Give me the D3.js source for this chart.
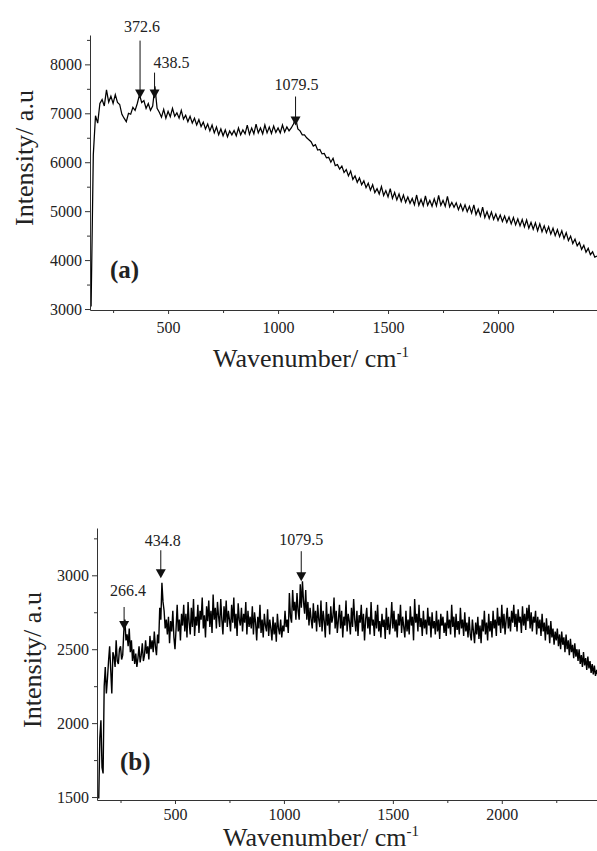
<!DOCTYPE html>
<html>
<head>
<meta charset="utf-8">
<script src="https://cdn.jsdelivr.net/npm/d3@7"></script>
<style>
    body { margin: 0; background: #fff; }
    svg { display: block; }
    svg text { font-family: "Liberation Serif", "Times New Roman", serif; fill: #222; }
    .axis path, .axis line { stroke: #333; stroke-width: 1; }
    .spectrum { fill: none; stroke: #000; }
</style>
</head>
<body>
<svg id="chart" width="597" height="851"></svg>
<script>

var serif = '"Liberation Serif", "Times New Roman", serif';

// both spectra start at 150 cm-1
var waveStart = 150;
var waveStepA = 10;
var waveStepB = 5;

// panel (a) intensity, 150 .. 2450 cm-1, every 10 cm-1
var intensityA = [
    3050, 6150, 6950, 6800, 7200, 7280, 7150, 7480, 7230, 7350,
    7200, 7380, 7220, 7180, 6980, 6900, 6830, 7000, 6980, 7120,
    7060, 7200, 7380, 7220, 7260, 7100, 7200, 7060, 7150, 7550,
    7100, 7020, 6920, 7080, 6900, 7040, 6930, 7100, 6940, 7010,
    6900, 7060, 6880, 6960, 6830, 6940, 6800, 6900, 6760, 6870,
    6730, 6820, 6680, 6780, 6640, 6760, 6600, 6720, 6560, 6680,
    6540, 6660, 6520, 6640, 6560, 6650, 6540, 6700, 6560, 6660,
    6580, 6760, 6570, 6700, 6580, 6780, 6600, 6700, 6580, 6760,
    6600, 6720, 6590, 6740, 6610, 6700, 6600, 6760, 6620, 6720,
    6640, 6700, 6780, 6900, 6680, 6640, 6560, 6560, 6500, 6460,
    6420, 6330, 6360, 6250, 6260, 6170, 6180, 6090, 6100, 6000,
    6080, 5930, 5950, 5860, 5920, 5790, 5850, 5720, 5820, 5650,
    5720, 5590, 5680, 5540, 5620, 5480, 5570, 5430, 5540, 5380,
    5460, 5350, 5500, 5320, 5420, 5290, 5460, 5260, 5380, 5230,
    5350, 5200, 5330, 5180, 5290, 5160, 5260, 5130, 5330, 5120,
    5240, 5110, 5310, 5120, 5220, 5100, 5250, 5110, 5320, 5120,
    5220, 5100, 5300, 5090, 5180, 5080, 5170, 5030, 5140, 5010,
    5130, 4990, 5100, 4960, 5130, 4930, 5040, 4900, 5080, 4870,
    4990, 4850, 4980, 4830, 4940, 4810, 4920, 4790, 4900, 4770,
    4880, 4740, 4870, 4720, 4840, 4700, 4830, 4680, 4820, 4650,
    4770, 4630, 4760, 4600, 4740, 4580, 4700, 4560, 4680, 4530,
    4650, 4500, 4620, 4480, 4600, 4440, 4560, 4400, 4490, 4340,
    4430, 4290, 4360, 4220, 4300, 4160, 4240, 4110, 4170, 4060,
    4080
];

// panel (b) intensity, 150 .. 2440 cm-1, every 5 cm-1 (rows of 100 cm-1)
var intensityB = [
    1490, 1900, 2020, 1700, 1660, 2250, 2380, 2200, 2300, 2420, 2520, 2360, 2200, 2480, 2450, 2380, 2560, 2420, 2400, 2500,
    2520, 2430, 2460, 2620, 2700, 2560, 2600, 2520, 2640, 2480, 2560, 2420, 2500, 2400, 2470, 2380, 2440, 2520, 2410, 2460,
    2540, 2420, 2460, 2560, 2470, 2520, 2430, 2590, 2500, 2560, 2480, 2620, 2520, 2460, 2600, 2540, 2780, 2700, 2950, 2820,
    2760, 2640, 2700, 2600, 2720, 2540, 2690, 2620, 2760, 2580, 2500, 2640, 2800, 2620, 2700, 2560, 2740, 2660, 2800, 2620,
    2740, 2580, 2820, 2680, 2600, 2780, 2650, 2840, 2590, 2720, 2660, 2800, 2610, 2760, 2700, 2850, 2640, 2730, 2580, 2790,
    2690, 2830, 2650, 2760, 2610, 2870, 2700, 2780, 2640, 2820, 2720, 2650, 2840, 2700, 2600, 2790, 2680, 2830, 2650, 2760,
    2700, 2620, 2800, 2680, 2850, 2640, 2740, 2590, 2810, 2700, 2660, 2780, 2620, 2740, 2680, 2820, 2600, 2760, 2650, 2720,
    2640, 2790, 2600, 2750, 2680, 2560, 2720, 2640, 2800, 2610, 2700, 2580, 2740, 2660, 2620, 2770, 2590, 2700, 2640, 2560,
    2720, 2600, 2680, 2550, 2740, 2640, 2600, 2700, 2580, 2660, 2620, 2760, 2650, 2700, 2610, 2880, 2720, 2680, 2900, 2760,
    2820, 2700, 2880, 2760, 2700, 2940, 2780, 2960, 2820, 2740, 2900, 2700, 2820, 2660, 2780, 2700, 2640, 2810, 2680, 2760,
    2620, 2800, 2700, 2650, 2830, 2620, 2760, 2690, 2580, 2820, 2660, 2740, 2600, 2790, 2680, 2720, 2850, 2640, 2760, 2610,
    2700, 2800, 2640, 2760, 2580, 2720, 2660, 2830, 2620, 2740, 2690, 2600, 2780, 2650, 2840, 2700, 2620, 2760, 2590, 2730,
    2680, 2800, 2620, 2740, 2560, 2700, 2780, 2640, 2720, 2600, 2820, 2660, 2700, 2590, 2760, 2640, 2800, 2620, 2690, 2580,
    2740, 2650, 2700, 2570, 2780, 2630, 2720, 2600, 2680, 2820, 2640, 2760, 2620, 2700, 2580, 2740, 2660, 2800, 2610, 2720,
    2650, 2580, 2760, 2620, 2700, 2600, 2790, 2660, 2720, 2560, 2840, 2680, 2740, 2620, 2800, 2650, 2710, 2590, 2760, 2640,
    2700, 2600, 2780, 2660, 2720, 2580, 2750, 2640, 2690, 2600, 2760, 2620, 2700, 2570, 2740, 2660, 2720, 2610, 2680, 2590,
    2760, 2640, 2700, 2600, 2800, 2650, 2720, 2580, 2740, 2630, 2690, 2600, 2780, 2640, 2700, 2590, 2750, 2620, 2680, 2580,
    2720, 2600, 2560, 2700, 2620, 2540, 2680, 2600, 2720, 2570, 2660, 2540, 2700, 2620, 2760, 2600, 2680, 2560, 2740, 2620,
    2690, 2580, 2760, 2640, 2700, 2590, 2780, 2660, 2720, 2610, 2800, 2640, 2740, 2600, 2700, 2780, 2640, 2720, 2620, 2760,
    2680, 2800, 2650, 2740, 2620, 2770, 2680, 2720, 2610, 2790, 2660, 2740, 2630, 2780, 2690, 2800, 2640, 2750, 2620, 2720,
    2680, 2760, 2600, 2720, 2640, 2700, 2590, 2740, 2620, 2680, 2560, 2710, 2600, 2660, 2540, 2690, 2580, 2640, 2530, 2620,
    2560, 2640, 2520, 2600, 2500, 2620, 2530, 2580, 2480, 2600, 2500, 2560, 2460, 2570, 2480, 2530, 2440, 2540, 2450, 2500,
    2420, 2500, 2400, 2460, 2380, 2480, 2390, 2440, 2360, 2450, 2370, 2420, 2340, 2400, 2330, 2390, 2320, 2360, 2330
];

var tickLabelsX = [500, 1000, 1500, 2000];
var minorTicksX = [250, 750, 1250, 1750, 2250];
var tickLabelsYA = [3000, 4000, 5000, 6000, 7000, 8000];
var minorTicksYA = [3500, 4500, 5500, 6500, 7500, 8500];
var tickLabelsYB = [1500, 2000, 2500, 3000];
var minorTicksYB = [1750, 2250, 2750, 3250];

var peaksA = [
    { 'label': '372.6', 'wave': 372.6, 'top': 7300, 'len': 50, 'dy': -9, 'shift': 2 },
    { 'label': '438.5', 'wave': 438.5, 'top': 7300, 'len': 18, 'dy': -5, 'shift': 17 },
    { 'label': '1079.5', 'wave': 1079.5, 'top': 6750, 'len': 21, 'dy': -7, 'shift': 1 }
];

var peaksB = [
    { 'label': '266.4', 'wave': 266.4, 'top': 2630, 'len': 15, 'dy': -11, 'shift': 4 },
    { 'label': '434.8', 'wave': 434.8, 'top': 2980, 'len': 20, 'dy': -4, 'shift': 2 },
    { 'label': '1079.5', 'wave': 1079.5, 'top': 2960, 'len': 22, 'dy': -6, 'shift': 0 }
];

var svg = d3.select('#chart');

drawPanel({
    values: intensityA, step: waveStepA, stroke: 1.25,
    peaks: peaksA,
    xDomain: [145, 2450], xRange: [90, 597],
    yDomain: [2980, 8600], yRange: [310, 35],
    xMajor: tickLabelsX, xMinor: minorTicksX,
    yMajor: tickLabelsYA, yMinor: minorTicksYA,
    xPad: 8,
    tag: '(a)', tagX: 110, tagY: 278,
    xTitleX: 311, xTitleY: 367,
    yTitleX: 33, yTitleY: 158
});

drawPanel({
    values: intensityB, step: waveStepB, stroke: 1.4,
    peaks: peaksB,
    xDomain: [142, 2437], xRange: [97, 597],
    yDomain: [1480, 3320], yRange: [800, 528],
    xMajor: tickLabelsX, xMinor: minorTicksX,
    yMajor: tickLabelsYB, yMinor: minorTicksYB,
    xPad: 5,
    tag: '(b)', tagX: 120, tagY: 770,
    xTitleX: 321, xTitleY: 846,
    yTitleX: 41, yTitleY: 660
});

function drawPanel(p) {

    var x = d3.scaleLinear().domain(p.xDomain).range(p.xRange);
    var y = d3.scaleLinear().domain(p.yDomain).range(p.yRange);

    var g = svg.append('g');

    var points = p.values.map(function(v, i) { return [waveStart + i * p.step, v]; });

    var line = d3.line()
        .x(function(d) { return x(d[0]); })
        .y(function(d) { return y(d[1]); });

    g.append('path')
        .datum(points)
        .attr('class', 'spectrum')
        .attr('stroke-width', p.stroke)
        .attr('d', line);

    // axes, major + minor ticks
    var xAxis = g.append('g')
        .attr('class', 'axis')
        .attr('transform', 'translate(0,' + p.yRange[0] + ')')
        .call(d3.axisBottom(x).tickValues(p.xMajor).tickSize(4).tickSizeOuter(0).tickPadding(p.xPad).tickFormat(d3.format('d')));
    g.append('g')
        .attr('class', 'axis')
        .attr('transform', 'translate(0,' + p.yRange[0] + ')')
        .call(d3.axisBottom(x).tickValues(p.xMinor).tickSize(3).tickSizeOuter(0).tickFormat(''))
        .select('.domain').remove();

    var yAxis = g.append('g')
        .attr('class', 'axis')
        .attr('transform', 'translate(' + p.xRange[0] + ',0)')
        .call(d3.axisLeft(y).tickValues(p.yMajor).tickSize(5).tickSizeOuter(0).tickPadding(3).tickFormat(d3.format('d')));
    g.append('g')
        .attr('class', 'axis')
        .attr('transform', 'translate(' + p.xRange[0] + ',0)')
        .call(d3.axisLeft(y).tickValues(p.yMinor).tickSize(3).tickSizeOuter(0).tickFormat(''))
        .select('.domain').remove();

    xAxis.attr('font-family', serif).attr('font-size', 16);
    yAxis.attr('font-family', serif).attr('font-size', 16);
    xAxis.selectAll('text').attr('fill', '#222');
    yAxis.selectAll('text').attr('fill', '#222');

    // axis titles
    var xt = g.append('text')
        .attr('x', p.xTitleX)
        .attr('y', p.xTitleY)
        .attr('text-anchor', 'middle')
        .style('font-size', '26px');
    xt.append('tspan').text('Wavenumber/ cm');
    xt.append('tspan').attr('dy', -10).style('font-size', '15px').text('-1');

    g.append('text')
        .attr('transform', 'translate(' + p.yTitleX + ',' + p.yTitleY + ') rotate(-90)')
        .attr('text-anchor', 'middle')
        .style('font-size', '26px')
        .text('Intensity/ a.u');

    g.append('text')
        .attr('x', p.tagX)
        .attr('y', p.tagY)
        .style('font-size', '25px')
        .style('font-weight', 'bold')
        .text(p.tag);

    // peak markers
    var peak = g.selectAll('.peak')
        .data(p.peaks)
        .enter().append('g')
        .attr('class', 'peak');

    peak.append('line')
        .attr('x1', function(d) { return x(d.wave); })
        .attr('x2', function(d) { return x(d.wave); })
        .attr('y1', function(d) { return y(d.top) - 8 - d.len; })
        .attr('y2', function(d) { return y(d.top) - 8; })
        .attr('stroke', '#111')
        .attr('stroke-width', 1);

    peak.append('path')
        .attr('d', function(d) {
            var cx = x(d.wave), cy = y(d.top);
            return 'M' + (cx - 5) + ',' + (cy - 9) + 'L' + (cx + 5) + ',' + (cy - 9) + 'L' + cx + ',' + cy + 'Z';
        })
        .attr('fill', '#111');

    peak.append('text')
        .attr('x', function(d) { return x(d.wave) + d.shift; })
        .attr('y', function(d) { return y(d.top) - 8 - d.len + d.dy; })
        .attr('text-anchor', 'middle')
        .style('font-size', '16px')
        .text(function(d) { return d.label; });

}

</script>
</body>
</html>
